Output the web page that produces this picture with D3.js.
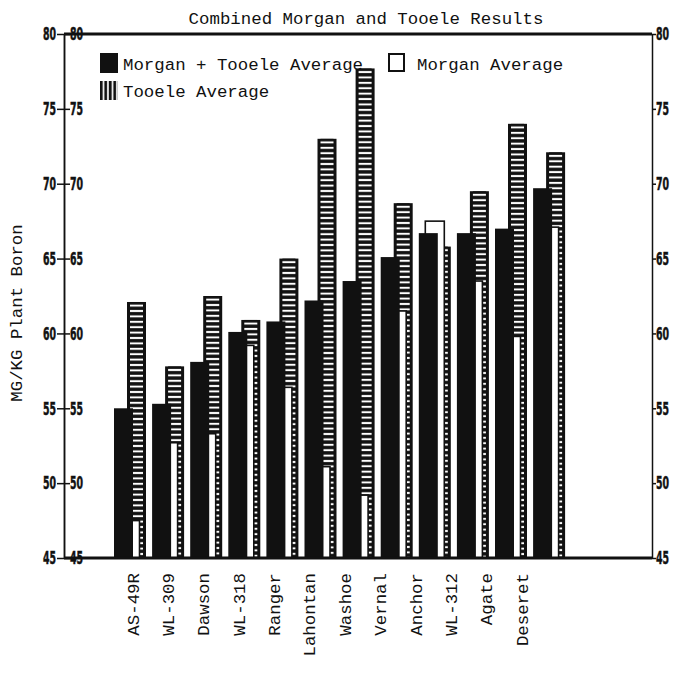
<!DOCTYPE html>
<html>
<head>
<meta charset="utf-8">
<script src="https://cdn.jsdelivr.net/npm/d3@7"></script>
<style>
  body { margin: 0; background: #fff; }
  .mono { font-family: "Liberation Mono", "DejaVu Sans Mono", monospace; font-size: 17.4px; fill: #111; }
  .tick text { font-family: "DejaVu Sans Condensed", "Liberation Sans Narrow", sans-serif; font-weight: bold; font-size: 18px; fill: #111; stroke: #111; stroke-width: 0.5px; }
</style>
</head>
<body>
<div id="chart-area"></div>
<script>
/*
*    boron chart
*/

var categories = ["AS-49R", "WL-309", "Dawson", "WL-318", "Ranger", "Lahontan",
    "Washoe", "Vernal", "Anchor", "WL-312", "Agate", "Deseret"];
var combinedAvg = [55.0, 55.3, 58.1, 60.1, 60.8, 62.2, 63.5, 65.1, 66.7, 66.7, 67.0, 69.7];
var morganAvg = [47.5, 52.7, 53.3, 59.2, 56.4, 51.1, 49.2, 61.5, 67.5, 63.5, 59.8, 67.1];
var tooeleAvg = [62.1, 57.8, 62.5, 60.9, 65.0, 73.0, 77.7, 68.7, 65.8, 69.5, 74.0, 72.1];
var yTicks = [45, 50, 55, 60, 65, 70, 75, 80];

var margin = { left: 64, right: 23, top: 34, bottom: 119 };
var width = 675 - margin.left - margin.right,
    height = 677 - margin.top - margin.bottom;

var svg = d3.select("#chart-area").append("svg")
    .attr("width", 675)
    .attr("height", 677);

var defs = svg.append("defs");
var g = svg.append("g").attr("transform", "translate(" + margin.left + ", " + margin.top + ")");

var y = d3.scaleLinear().domain([45, 80]).range([height, 0]);
var x = d3.scaleBand().domain(categories).range([50, 50 + 12 * 38.1]).padding(0);
var xLabel = d3.scalePoint().domain(categories).range([68, 457]);

var barW = 19, step = 6.5;

// Title
svg.append("text")
    .attr("class", "mono")
    .attr("x", 366)
    .attr("y", 24)
    .attr("text-anchor", "middle")
    .text("Combined Morgan and Tooele Results");

// Y Label
svg.append("text")
    .attr("class", "mono")
    .attr("transform", "translate(16,313) rotate(-90)")
    .attr("text-anchor", "middle")
    .attr("dy", "0.35em")
    .text("MG/KG Plant Boron");

// stripe pattern per bar so the stripes start at bar top
function stripePattern(id, top, vertical) {
    var p = defs.append("pattern")
        .attr("id", id)
        .attr("patternUnits", "userSpaceOnUse")
        .attr("y", vertical ? 0 : top)
        .attr("x", vertical ? top : 0)
        .attr("width", vertical ? 4.5 : 50)
        .attr("height", vertical ? 50 : 5.4);
    p.append("rect").attr("width", vertical ? 4.5 : 50).attr("height", vertical ? 50 : 5.4).attr("fill", "#111");
    if (vertical) {
        p.append("rect").attr("x", 2.6).attr("width", 1.7).attr("height", 50).attr("fill", "#fff");
    } else {
        p.append("rect").attr("y", 2.6).attr("height", 2).attr("width", 50).attr("fill", "#fff");
    }
    return p;
}

// Bars
categories.forEach((c, i) => {
    var grp = g.append("g");
    var x0 = x(c);
    // Tooele (back)
    var tTop = y(tooeleAvg[i]);
    stripePattern("stripe" + i, tTop, false);
    grp.append("rect")
        .attr("x", x0 + 2 * step)
        .attr("y", tTop)
        .attr("width", barW)
        .attr("height", height - tTop)
        .attr("fill", "#111");
    grp.append("rect")
        .attr("x", x0 + 2 * step + 3)
        .attr("y", tTop)
        .attr("width", barW - 6)
        .attr("height", height - tTop)
        .attr("fill", "url(#stripe" + i + ")");
    // Morgan (middle)
    grp.append("rect")
        .attr("x", x0 + step)
        .attr("y", y(morganAvg[i]))
        .attr("width", barW)
        .attr("height", height - y(morganAvg[i]))
        .attr("fill", "#fff")
        .attr("stroke", "#111")
        .attr("stroke-width", 1.6);
    // Morgan + Tooele (front)
    grp.append("rect")
        .attr("x", x0)
        .attr("y", y(combinedAvg[i]))
        .attr("width", barW)
        .attr("height", height - y(combinedAvg[i]))
        .attr("fill", "#111");
});

// Axes
var leftAxis = d3.axisLeft(y).tickValues(yTicks).tickSize(7).tickSizeOuter(0).tickPadding(1);
g.append("g").attr("class", "y axis").call(leftAxis);
var innerAxis = d3.axisRight(y).tickValues(yTicks).tickSize(6).tickSizeOuter(0).tickPadding(0);
g.append("g").attr("class", "y axis").call(innerAxis);
var rightAxis = d3.axisRight(y).tickValues(yTicks).tickSize(4).tickSizeOuter(0).tickPadding(0);
g.append("g").attr("class", "y axis right")
    .attr("transform", "translate(" + width + ",0)")
    .call(rightAxis);

g.selectAll(".y.axis path, .y.axis line").attr("stroke", "#111").attr("stroke-width", 1.5);

// squeeze the tick digits sideways like the plotter font
var sx = 0.58;
g.selectAll(".y.axis text").each(function() {
    var t = d3.select(this);
    t.attr("x", (+t.attr("x")) / sx).attr("transform", "scale(" + sx + ",1)");
});

// top and bottom frame lines
[80, 45].forEach((v) => {
    g.append("line")
        .attr("x1", 0).attr("x2", width)
        .attr("y1", y(v)).attr("y2", y(v))
        .attr("stroke", "#111")
        .attr("stroke-width", 3);
});

// Category labels
var bottomAxis = d3.axisBottom(xLabel).tickSize(0).tickPadding(0);
var xg = g.append("g")
    .attr("class", "x axis")
    .attr("transform", "translate(0," + (height + 15) + ")")
    .call(bottomAxis);
xg.select("path").remove();
xg.selectAll("text")
    .attr("class", "mono")
    .style("font-family", "'Liberation Mono', 'DejaVu Sans Mono', monospace")
    .style("font-weight", "normal")
    .style("font-size", "17.4px")
    .style("stroke", "none")
    .attr("y", 0)
    .attr("dy", "0.35em")
    .attr("transform", "rotate(-90)")
    .attr("text-anchor", "end");

// Legend
var legend = svg.append("g");
stripePattern("legendStripe", 100, true);
legend.append("rect").attr("x", 100).attr("y", 53).attr("width", 18).attr("height", 20).attr("fill", "#111");
legend.append("text").attr("class", "mono").attr("x", 123).attr("y", 70).text("Morgan + Tooele Average");
legend.append("rect").attr("x", 100).attr("y", 81).attr("width", 18).attr("height", 19).attr("fill", "url(#legendStripe)");
legend.append("text").attr("class", "mono").attr("x", 123).attr("y", 97).text("Tooele Average");
legend.append("rect").attr("x", 389).attr("y", 54).attr("width", 15).attr("height", 17)
    .attr("fill", "#fff").attr("stroke", "#111").attr("stroke-width", 2);
legend.append("text").attr("class", "mono").attr("x", 417).attr("y", 70).text("Morgan Average");
</script>
</body>
</html>
